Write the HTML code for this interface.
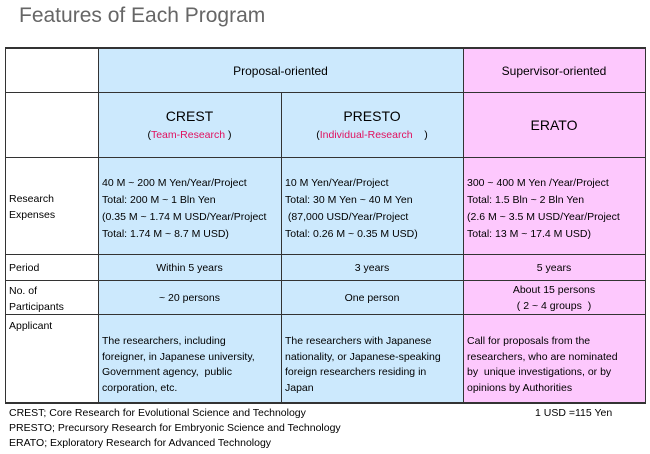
<!DOCTYPE html>
<html><head><meta charset="utf-8"><style>
body{margin:0;width:650px;height:454px;background:#fff;font-family:"Liberation Sans",Arial,sans-serif;position:relative;overflow:hidden;color:#000}
.t{position:absolute;white-space:nowrap}
.c{position:absolute;box-sizing:border-box}
.f{font-size:10.5px;line-height:16px}
.h{position:absolute;background:#333}
</style></head><body>
<div class="t" style="left:19px;top:4px;font-size:21px;color:#666">Features of Each Program</div>

<div class="c" style="left:98px;top:48px;width:365px;height:355px;background:#cce9fd"></div>
<div class="c" style="left:463px;top:48px;width:182px;height:355px;background:#fdc8fd"></div>

<div class="h" style="left:5px;top:47px;width:641px;height:2px"></div>
<div class="h" style="left:5px;top:92px;width:641px;height:1px"></div>
<div class="h" style="left:5px;top:157px;width:641px;height:1px"></div>
<div class="h" style="left:5px;top:254px;width:641px;height:1px"></div>
<div class="h" style="left:5px;top:280px;width:641px;height:1px"></div>
<div class="h" style="left:5px;top:314px;width:641px;height:1px"></div>
<div class="h" style="left:5px;top:402px;width:641px;height:2px"></div>
<div class="h" style="left:5px;top:47px;width:1px;height:357px"></div>
<div class="h" style="left:98px;top:47px;width:1px;height:357px"></div>
<div class="h" style="left:281px;top:92px;width:1px;height:312px"></div>
<div class="h" style="left:463px;top:47px;width:1px;height:357px"></div>
<div class="h" style="left:645px;top:47px;width:1px;height:357px"></div>

<div class="t" style="left:98px;width:365px;text-align:center;top:64px;font-size:12px">Proposal-oriented</div>
<div class="t" style="left:463px;width:182px;text-align:center;top:64px;font-size:12px">Supervisor-oriented</div>

<div class="t" style="left:98px;width:183px;text-align:center;top:108px;font-size:14px">CREST</div>
<div class="t" style="left:98px;width:183px;text-align:center;top:129px;font-size:10.5px">(<span style="color:#e0105e">Team-Research</span> )</div>
<div class="t" style="left:281px;width:182px;text-align:center;top:108px;font-size:14px">PRESTO</div>
<div class="t" style="left:281px;width:182px;text-align:center;top:129px;font-size:10.5px">(<span style="color:#e0105e">Individual-Research</span> &nbsp; &nbsp;)</div>
<div class="t" style="left:463px;width:182px;text-align:center;top:117px;font-size:14px">ERATO</div>

<div class="t f" style="left:9px;top:191px">Research<br>Expenses</div>
<div class="t f" style="left:102px;top:175px;line-height:17px">40 M ~ 200 M Yen/Year/Project<br>Total: 200 M ~ 1 Bln Yen<br>(0.35 M ~ 1.74 M USD/Year/Project<br>Total: 1.74 M ~ 8.7 M USD)</div>
<div class="t f" style="left:285px;top:175px;line-height:17px">10 M Yen/Year/Project<br>Total: 30 M Yen ~ 40 M Yen<br>&nbsp;(87,000 USD/Year/Project<br>Total: 0.26 M ~ 0.35 M USD)</div>
<div class="t f" style="left:467px;top:175px;line-height:17px">300 ~ 400 M Yen /Year/Project<br>Total: 1.5 Bln ~ 2 Bln Yen<br>(2.6 M ~ 3.5 M USD/Year/Project<br>Total: 13 M ~ 17.4 M USD)</div>

<div class="t f" style="left:9px;top:260px">Period</div>
<div class="t f" style="left:98px;width:183px;text-align:center;top:260px">Within 5 years</div>
<div class="t f" style="left:281px;width:182px;text-align:center;top:260px">3 years</div>
<div class="t f" style="left:463px;width:182px;text-align:center;top:260px">5 years</div>

<div class="t f" style="left:9px;top:283px">No. of<br>Participants</div>
<div class="t f" style="left:98px;width:183px;text-align:center;top:290px">~ 20 persons</div>
<div class="t f" style="left:281px;width:182px;text-align:center;top:290px">One person</div>
<div class="t f" style="left:463px;width:182px;text-align:center;top:282px">About 15 persons<br>( 2 ~ 4 groups &nbsp;)</div>

<div class="t f" style="left:9px;top:318px">Applicant</div>
<div class="t f" style="left:102px;top:334px;line-height:15.5px">The researchers, including<br>foreigner, in Japanese university,<br>Government agency, &nbsp;public<br>corporation, etc.</div>
<div class="t f" style="left:285px;top:334px;line-height:15.5px">The researchers with Japanese<br>nationality, or Japanese-speaking<br>foreign researchers residing in<br>Japan</div>
<div class="t f" style="left:467px;top:334px;line-height:15.5px">Call for proposals from the<br>researchers, who are nominated<br>by &nbsp;unique investigations, or by<br>opinions by Authorities</div>

<div class="t" style="left:9px;top:406px;font-size:10.5px;line-height:15px">CREST; Core Research for Evolutional Science and Technology<br>PRESTO; Precursory Research for Embryonic Science and Technology<br>ERATO; Exploratory Research for Advanced Technology</div>
<div class="t" style="left:535px;top:406px;font-size:10.5px;line-height:15px">1 USD =115 Yen</div>
</body></html>
